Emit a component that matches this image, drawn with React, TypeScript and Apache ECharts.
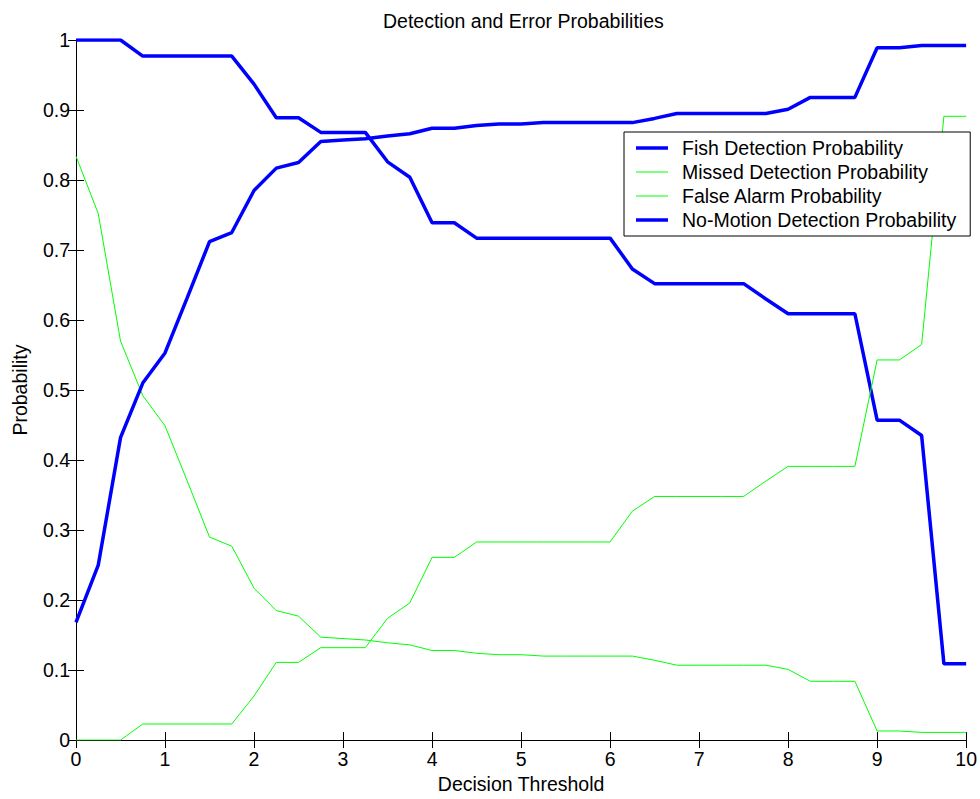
import React, { useEffect, useRef } from "react";
import * as echarts from "echarts";

const thresholds = [0, 0.25, 0.5, 0.75, 1, 1.25, 1.5, 1.75, 2, 2.25, 2.5, 2.75, 3, 3.25, 3.5, 3.75, 4, 4.25, 4.5, 4.75, 5, 5.25, 5.5, 5.75, 6, 6.25, 6.5, 6.75, 7, 7.25, 7.5, 7.75, 8, 8.25, 8.5, 8.75, 9, 9.25, 9.5, 9.75, 10];

const fishDetection = [1, 1, 1, 0.977, 0.977, 0.977, 0.977, 0.977, 0.937, 0.889, 0.889, 0.868, 0.868, 0.868, 0.826, 0.804, 0.739, 0.739, 0.717, 0.717, 0.717, 0.717, 0.717, 0.717, 0.717, 0.673, 0.652, 0.652, 0.652, 0.652, 0.652, 0.63, 0.609, 0.609, 0.609, 0.609, 0.457, 0.457, 0.435, 0.109, 0.109];

const missedDetection = [0, 0, 0, 0.023, 0.023, 0.023, 0.023, 0.023, 0.063, 0.111, 0.111, 0.132, 0.132, 0.132, 0.174, 0.196, 0.261, 0.261, 0.283, 0.283, 0.283, 0.283, 0.283, 0.283, 0.283, 0.327, 0.348, 0.348, 0.348, 0.348, 0.348, 0.37, 0.391, 0.391, 0.391, 0.391, 0.543, 0.543, 0.565, 0.891, 0.891];

const falseAlarm = [0.834, 0.752, 0.57, 0.492, 0.449, 0.37, 0.29, 0.277, 0.217, 0.185, 0.177, 0.147, 0.145, 0.143, 0.139, 0.136, 0.128, 0.128, 0.124, 0.122, 0.122, 0.12, 0.12, 0.12, 0.12, 0.12, 0.114, 0.107, 0.107, 0.107, 0.107, 0.107, 0.101, 0.084, 0.084, 0.084, 0.013, 0.013, 0.011, 0.011, 0.011];

const noMotionDetection = [0.168, 0.25, 0.432, 0.51, 0.553, 0.632, 0.712, 0.725, 0.785, 0.817, 0.825, 0.855, 0.857, 0.859, 0.863, 0.866, 0.874, 0.874, 0.878, 0.88, 0.88, 0.882, 0.882, 0.882, 0.882, 0.882, 0.888, 0.895, 0.895, 0.895, 0.895, 0.895, 0.901, 0.918, 0.918, 0.918, 0.989, 0.989, 0.992, 0.992, 0.992];

const seriesNames = [
  "Fish Detection Probability",
  "Missed Detection Probability",
  "False Alarm Probability",
  "No-Motion Detection Probability",
];

const FONT = "'Liberation Sans', Arial, Helvetica, sans-serif";
const FS = 19.5;

export default function App() {
  const ref = useRef<HTMLDivElement>(null);

  useEffect(() => {
    document.body.style.margin = "0";
    if (!ref.current) return;
    const chart = echarts.init(ref.current, undefined, { renderer: "svg" });

    const pairs = (ys: number[]) => thresholds.map((x, i) => [x, ys[i]]);
    const blue = "#0000ff";
    const green = "#00ff00";
    const thickIcon = "path://M0,0H64V7H0Z";
    const thinIcon = "path://M0,0H64V2H0Z";

    const axisCommon = {
      axisLine: { show: true, lineStyle: { color: "#000", width: 1 } },
      axisTick: { show: true, inside: true, length: 8, lineStyle: { color: "#000" } },
      splitLine: { show: false },
    };

    chart.setOption({
      animation: false,
      backgroundColor: "#fff",
      textStyle: { fontFamily: FONT },
      title: {
        text: "Detection and Error Probabilities",
        left: 378,
        top: 6,
        textStyle: { fontFamily: FONT, fontSize: FS, fontWeight: "normal", color: "#000" },
      },
      grid: { left: 76, right: 12, top: 40, bottom: 54 },
      legend: {
        orient: "vertical",
        left: 624,
        top: 132,
        data: [
          { name: seriesNames[0], icon: thickIcon },
          { name: seriesNames[1], icon: thinIcon },
          { name: seriesNames[2], icon: thinIcon },
          { name: seriesNames[3], icon: thickIcon },
        ],
        itemWidth: 32,
        itemHeight: 14,
        itemGap: 4,
        symbolKeepAspect: true,
        padding: [6, 14, 6, 12],
        borderColor: "#000",
        borderWidth: 1,
        backgroundColor: "#fff",
        textStyle: { fontFamily: FONT, fontSize: FS, color: "#000", padding: [0, 0, 0, 9] },
      },
      xAxis: [
        {
          type: "value",
          min: 0,
          max: 10,
          interval: 1,
          position: "bottom",
          name: "Decision Threshold",
          nameLocation: "middle",
          nameGap: 30,
          nameTextStyle: { fontFamily: FONT, fontSize: FS, color: "#000" },
          axisLabel: { show: true, margin: 9, fontFamily: FONT, fontSize: FS, color: "#000" },
          ...axisCommon,
        },
        {
          type: "value",
          min: 0,
          max: 10,
          interval: 1,
          position: "top",
          axisLabel: { show: false },
          ...axisCommon,
        },
      ],
      yAxis: [
        {
          type: "value",
          min: 0,
          max: 1,
          interval: 0.1,
          position: "left",
          name: "Probability",
          nameLocation: "middle",
          nameGap: 46,
          nameRotate: 90,
          nameTextStyle: { fontFamily: FONT, fontSize: FS, color: "#000" },
          axisLabel: { show: true, margin: 6, fontFamily: FONT, fontSize: FS, color: "#000" },
          ...axisCommon,
        },
        {
          type: "value",
          min: 0,
          max: 1,
          interval: 0.1,
          position: "right",
          axisLabel: { show: false },
          ...axisCommon,
        },
      ],
      series: [
        {
          name: seriesNames[0],
          type: "line",
          data: pairs(fishDetection),
          symbol: "none",
          lineStyle: { color: blue, width: 3.5 },
          itemStyle: { color: blue },
        },
        {
          name: seriesNames[1],
          type: "line",
          data: pairs(missedDetection),
          symbol: "none",
          lineStyle: { color: green, width: 1 },
          itemStyle: { color: green },
        },
        {
          name: seriesNames[2],
          type: "line",
          data: pairs(falseAlarm),
          symbol: "none",
          lineStyle: { color: green, width: 1 },
          itemStyle: { color: green },
        },
        {
          name: seriesNames[3],
          type: "line",
          data: pairs(noMotionDetection),
          symbol: "none",
          lineStyle: { color: blue, width: 3.5 },
          itemStyle: { color: blue },
        },
      ],
    });

    return () => chart.dispose();
  }, []);

  return <div ref={ref} style={{ width: 980, height: 799 }} />;
}
